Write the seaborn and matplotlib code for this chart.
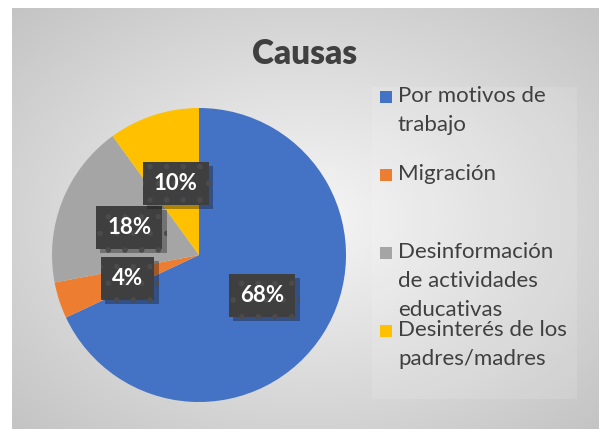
import numpy as np
import matplotlib
matplotlib.use("Agg")
import matplotlib.pyplot as plt
import matplotlib.patheffects as pe
from matplotlib.patches import Rectangle
import seaborn as sns

# datos del grafico
causas = ["Por motivos de\ntrabajo", "Migración",
          "Desinformación\nde actividades\neducativas",
          "Desinterés de los\npadres/madres"]
porcentajes = [68, 4, 18, 10]
colores = ["#4472C4", "#ED7D31", "#A5A5A5", "#FFC000"]
titulo = "Causas"

sns.set_theme(style="white")
plt.rcParams["font.family"] = ["Lato", "DejaVu Sans"]
plt.rcParams["hatch.linewidth"] = 1.5

W, H = 599, 429
fig = plt.figure(figsize=(W / 100, H / 100), dpi=100)
fig.patch.set_facecolor("white")

# fondo con degradado radial (area del grafico)
bg = fig.add_axes([12 / W, 0, 1 - 12 / W, 1 - 8 / H])
yy, xx = np.mgrid[-1:1:200j, -1:1:300j]
rr = np.sqrt(xx ** 2 + yy ** 2) / np.sqrt(2)
bg.imshow(rr, cmap=sns.blend_palette(["#f6f6f6", "#c4c4c4"], as_cmap=True),
          aspect="auto", extent=[0, 1, 0, 1], vmin=0, vmax=1)
bg.set_axis_off()

# caja de la leyenda, apenas mas clara
fig.patches.append(Rectangle((372 / W, 1 - 399 / H), 205 / W, 312 / H,
                             transform=fig.transFigure, facecolor="white",
                             alpha=0.12, edgecolor="none", zorder=1))

fig.text(305 / W, 1 - 54 / H, titulo, ha="center", va="center",
         fontsize=24, fontweight="heavy", color="#404040")

# pastel
cx, cy, r = 199, 255, 147
ax = fig.add_axes([(cx - r) / W, (H - cy - r) / H, 2 * r / W, 2 * r / H])
wedges, _, autotexts = ax.pie(porcentajes, colors=colores, startangle=90,
                              counterclock=False, autopct="%1.0f%%",
                              pctdistance=0.51, labeldistance=None,
                              wedgeprops=dict(linewidth=0))
ax.set_xlim(-1, 1)
ax.set_ylim(-1, 1)
ax.set_axis_off()

for t in autotexts:
    t.set_color("white")
    t.set_fontsize(16)
    t.set_fontweight("bold")
    t.set_bbox(dict(boxstyle="square,pad=0.5", facecolor="#3f3f3f",
                    edgecolor="#4b4b4b", hatch=".", linewidth=0))
    t.get_bbox_patch().set_path_effects(
        [pe.SimplePatchShadow(offset=(3, -3), alpha=0.35), pe.Normal()])

# leyenda manual (el texto se sobrepone como en el original)
ley_y = [97, 175, 253, 331]
for lab, col, y in zip(causas, colores, ley_y):
    fig.patches.append(Rectangle((380 / W, 1 - (y + 6) / H), 12 / W, 12 / H,
                                 transform=fig.transFigure, facecolor=col,
                                 edgecolor="none", zorder=3))
    fig.text(398 / W, 1 - (y - 11) / H, lab, ha="left", va="top",
             fontsize=16, color="#404040", linespacing=1.55, zorder=4)

fig.savefig("out.png", dpi=100)
